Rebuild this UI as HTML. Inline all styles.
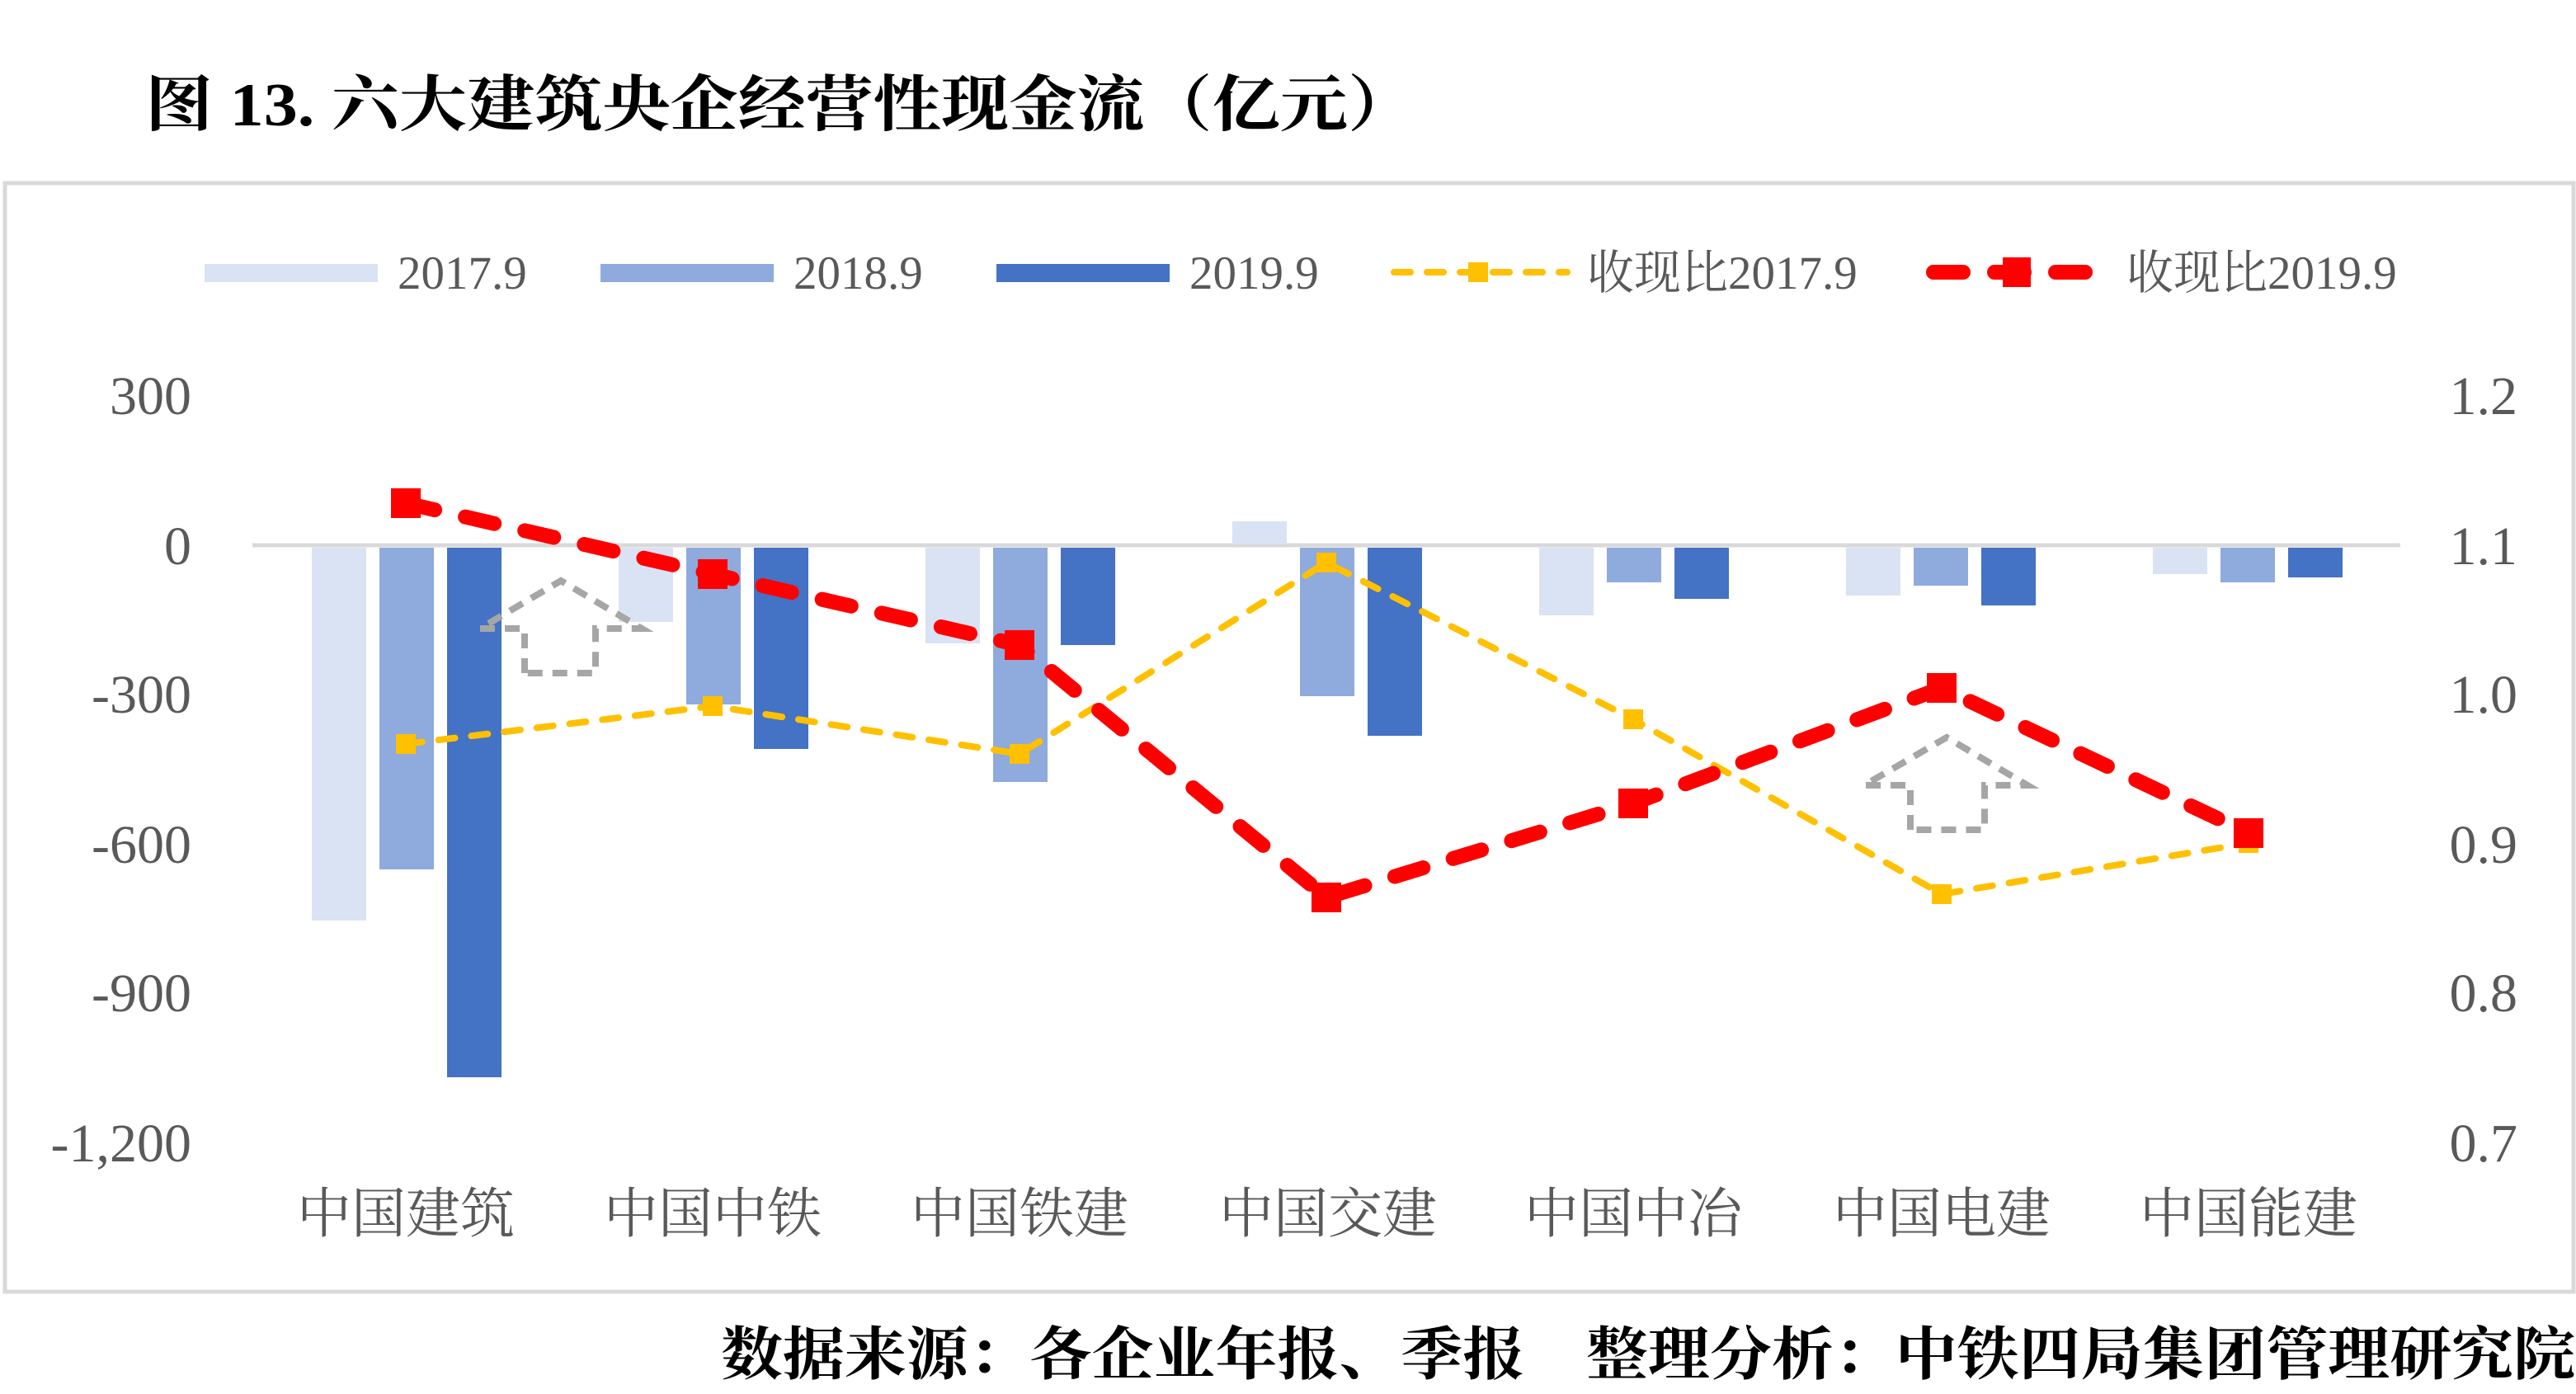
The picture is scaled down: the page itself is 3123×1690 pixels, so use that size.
<!DOCTYPE html>
<html><head><meta charset="utf-8"><style>html,body{margin:0;padding:0;background:#fff}svg{display:block}</style></head>
<body>
<svg width="3123" height="1690" viewBox="0 0 1561.5 845" xmlns="http://www.w3.org/2000/svg">
<rect width="1561.5" height="845" fill="#fff"/>
<text x="88" y="76" font-family="'Liberation Serif','Noto Serif CJK SC',serif" font-weight="bold" font-size="37" fill="#000" textLength="770" lengthAdjust="spacingAndGlyphs">图 13. 六大建筑央企经营性现金流（亿元）</text>
<rect x="3" y="111" width="1557" height="672" fill="#fff" stroke="#d9d9d9" stroke-width="2.5"/>
<g font-family="'Liberation Serif','Noto Serif CJK SC',serif" font-size="28.5" fill="#595959">
<rect x="124" y="160" width="105" height="11" fill="#dae3f3"/><text x="241" y="175">2017.9</text>
<rect x="364" y="160" width="105" height="11" fill="#8faadc"/><text x="481" y="175">2018.9</text>
<rect x="604" y="160" width="105" height="11" fill="#4472c4"/><text x="721" y="175">2019.9</text>
<line x1="845" y1="165" x2="950" y2="165" stroke="#ffc000" stroke-width="4" stroke-dasharray="10 10" stroke-linecap="round"/>
<rect x="890" y="159" width="12" height="12" fill="#ffc000"/><text x="962" y="175">收现比2017.9</text>
<line x1="1172" y1="165" x2="1268" y2="165" stroke="#ff0000" stroke-width="9" stroke-dasharray="18 19" stroke-linecap="round"/>
<rect x="1214" y="156" width="17" height="18" fill="#ff0000"/><text x="1289" y="175">收现比2019.9</text>
</g>
<g font-family="'Liberation Serif',serif" font-size="33" fill="#595959" text-anchor="end">
<text x="116" y="251">300</text><text x="116" y="342">0</text><text x="116" y="432">-300</text><text x="116" y="523">-600</text><text x="116" y="613">-900</text><text x="116" y="704">-1,200</text>
</g>
<g font-family="'Liberation Serif',serif" font-size="33" fill="#595959" text-anchor="end">
<text x="1526" y="251">1.2</text><text x="1526" y="342">1.1</text><text x="1526" y="432">1.0</text><text x="1526" y="523">0.9</text><text x="1526" y="613">0.8</text><text x="1526" y="704">0.7</text>
</g>
<g font-family="'Liberation Serif','Noto Serif CJK SC',serif" font-size="33" fill="#595959" text-anchor="middle">
<text x="246" y="747">中国建筑</text><text x="432" y="747">中国中铁</text><text x="618" y="747">中国铁建</text><text x="805" y="747">中国交建</text><text x="990" y="747">中国中冶</text><text x="1177" y="747">中国电建</text><text x="1363" y="747">中国能建</text>
</g>
<line x1="153" y1="330.5" x2="1455" y2="330.5" stroke="#d9d9d9" stroke-width="2.5"/>
<g fill="#dae3f3">
<rect x="189" y="332" width="33" height="226"/><rect x="375" y="332" width="33" height="45"/><rect x="561" y="332" width="33" height="58"/><rect x="747" y="316" width="33" height="14"/><rect x="933" y="332" width="33" height="41"/><rect x="1119" y="332" width="33" height="29"/><rect x="1305" y="332" width="33" height="16"/>
</g>
<g fill="#8faadc">
<rect x="230" y="332" width="33" height="195"/><rect x="416" y="332" width="33" height="95"/><rect x="602" y="332" width="33" height="142"/><rect x="788" y="332" width="33" height="90"/><rect x="974" y="332" width="33" height="21"/><rect x="1160" y="332" width="33" height="23"/><rect x="1346" y="332" width="33" height="21"/>
</g>
<g fill="#4472c4">
<rect x="271" y="332" width="33" height="321"/><rect x="457" y="332" width="33" height="122"/><rect x="643" y="332" width="33" height="59"/><rect x="829" y="332" width="33" height="114"/><rect x="1015" y="332" width="33" height="31"/><rect x="1201" y="332" width="33" height="35"/><rect x="1387" y="332" width="33" height="18"/>
</g>
<g fill="none" stroke="#a6a6a6" stroke-width="4" stroke-dasharray="9 6">
<path d="M318 408 L318 381 L291 381 L340 352 L389 381 L361 381 L361 408 Z"/>
<path d="M1158 503 L1158 476 L1130 476 L1180 447 L1229 476 L1203 476 L1203 503 Z"/>
</g>
<polyline points="246,451 432,428 618,457 804,341 990,436 1177,542 1363,511" fill="none" stroke="#ffc000" stroke-width="4" stroke-dasharray="10 10" stroke-linecap="round"/>
<g fill="#ffc000">
<rect x="240" y="445" width="12" height="12"/><rect x="426" y="422" width="12" height="12"/><rect x="612" y="451" width="12" height="12"/><rect x="798" y="335" width="12" height="12"/><rect x="984" y="430" width="12" height="12"/><rect x="1171" y="536" width="12" height="12"/><rect x="1357" y="505" width="12" height="12"/>
</g>
<polyline points="246,305 432,348 618,391 804,544 990,487 1177,417 1363,505" fill="none" stroke="#ff0000" stroke-width="9" stroke-dasharray="18 19" stroke-linecap="round"/>
<g fill="#ff0000">
<rect x="237" y="296" width="18" height="18"/><rect x="423" y="339" width="18" height="18"/><rect x="609" y="382" width="18" height="18"/><rect x="795" y="535" width="18" height="18"/><rect x="981" y="478" width="18" height="18"/><rect x="1168" y="408" width="18" height="18"/><rect x="1354" y="496" width="18" height="18"/>
</g>
<text x="437" y="833" font-family="'Liberation Serif','Noto Serif CJK SC',serif" font-weight="bold" font-size="35" fill="#000" textLength="1124" lengthAdjust="spacingAndGlyphs">数据来源：各企业年报、季报　整理分析：中铁四局集团管理研究院</text>
</svg>
</body></html>
